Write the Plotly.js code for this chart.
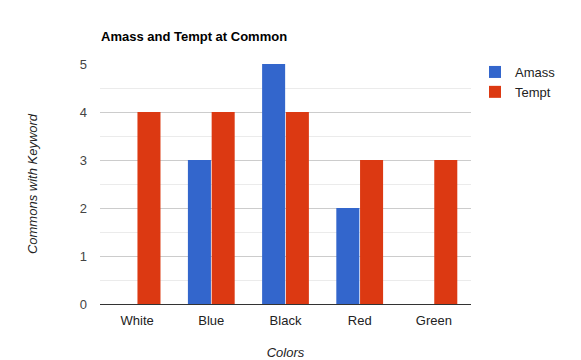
<!DOCTYPE html>
<html><head><meta charset="utf-8">
<script src="https://cdn.plot.ly/plotly-3.0.1.min.js"></script>
<style>html,body{margin:0;padding:0;background:#fff;}</style>
</head><body><div id="chart" style="width:581px;height:360px;"></div>
<script>
const categories = ["White", "Blue", "Black", "Red", "Green"];
const amass = [0, 3, 5, 2, 0];
const tempt = [4, 4, 4, 3, 3];
const seriesNames = ["Amass", "Tempt"];

const data = [
  {type: "bar", name: seriesNames[0], x: categories, y: amass, marker: {color: "#3366cc"}, hoverinfo: "none"},
  {type: "bar", name: seriesNames[1], x: categories, y: tempt, marker: {color: "#dc3912"}, hoverinfo: "none"}
];

const layout = {
  width: 581, height: 360,
  margin: {l: 100, r: 110, t: 64, b: 56},
  paper_bgcolor: "#fff", plot_bgcolor: "#fff",
  font: {family: "Arial, Liberation Sans, sans-serif", size: 13, color: "#222"},
  title: {text: "<b>Amass and Tempt at Common</b>", x: 101/581, xanchor: "left", y: 1 - 36/360, yanchor: "middle",
          font: {size: 13, color: "#000"}},
  barmode: "group", bargap: 0.36, bargroupgap: 0.03,
  xaxis: {
    showgrid: false, showline: false, zeroline: false, ticks: "",
    ticklabelstandoff: 7,
    tickfont: {size: 13, color: "#222"},
    title: {text: "<i>Colors</i>", font: {size: 13, color: "#222"}, standoff: 20}
  },
  yaxis: {
    range: [0, 5], dtick: 1, showgrid: true, gridcolor: "#cccccc", gridwidth: 1,
    zeroline: true, zerolinecolor: "#333", zerolinewidth: 1,
    ticks: "", ticklabelstandoff: 12,
    tickfont: {size: 13, color: "#444"},
    minor: {dtick: 0.5, showgrid: true, gridcolor: "#ebebeb", gridwidth: 1},
    title: {text: "<i>Commons with Keyword</i>", font: {size: 13, color: "#222"}, standoff: 39}
  },
  showlegend: true,
  legend: {x: (475-100)/371, xanchor: "left", y: 1 + 7/240, yanchor: "top",
           font: {size: 13, color: "#222"}, itemwidth: 30, tracegroupgap: 0, bgcolor: "rgba(0,0,0,0)"}
};

Plotly.newPlot("chart", data, layout, {displayModeBar: false, staticPlot: true});
</script></body></html>
